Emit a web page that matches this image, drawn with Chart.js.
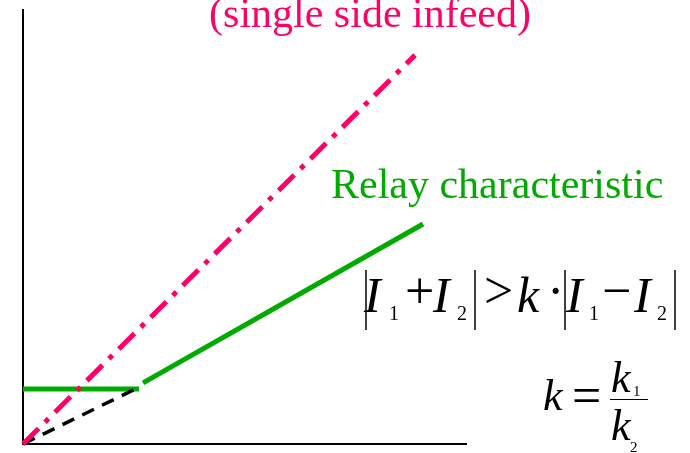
<!DOCTYPE html>
<html>
<head>
<meta charset="utf-8">
<script src="https://cdn.jsdelivr.net/npm/chart.js@4"></script>
<style>
  html, body { margin: 0; padding: 0; background: #fff; }
  #wrap { width: 690px; height: 453px; }
</style>
</head>
<body>
<div id="wrap"><canvas id="relay-chart" width="690" height="453"></canvas></div>
<script>
// line end points, in axis units (0..10 on both axes)
const infeedX = [0, 8.85];
const infeedY = [0, 8.96];
const restraintX = [0, 2.62];
const restraintY = [0, 1.31];
const relayFlatX = [0, 2.62];
const relayFlatY = [1.27, 1.27];
const relaySlopeX = [2.71, 9.03];
const relaySlopeY = [1.41, 5.07];

const PINK = "#FF0066";
const GREEN = "#00AA00";

const toPoints = (xs, ys) => xs.map((x, i) => ({ x: x, y: ys[i] }));

// annotation texts + formula, drawn on top of the chart
const labelsPlugin = {
  id: "labels",
  afterDraw(chart) {
    const c = chart.ctx;
    c.save();
    c.textBaseline = "alphabetic";
    c.textAlign = "center";
    c.fillStyle = PINK;
    c.font = "42px 'Liberation Serif'";
    c.fillText("(single side infeed)", 370, 27);

    c.textAlign = "left";
    c.fillStyle = GREEN;
    c.font = "42px 'Liberation Serif'";
    c.fillText("Relay characteristic", 331, 198);

    // |I1 + I2| > k·|I1 − I2|
    c.fillStyle = "#000";
    const it = "italic 50px 'Liberation Serif'";
    const op = "52px 'Liberation Serif'";
    const sub = "20px 'Liberation Serif'";
    const base = 312;
    const opBase = 308;
    const txt = (s, x, y, f) => { c.font = f; c.fillText(s, x, y); };
    txt("I", 364, base, it);
    txt("1", 389, base + 8, sub);
    txt("+", 405, opBase, op);
    txt("I", 433, base, it);
    txt("2", 457, base + 8, sub);
    txt(">", 484, opBase, op);
    txt("k", 517, base, it);
    txt("\u00B7", 547, opBase, op);
    txt("I", 566, base, it);
    txt("1", 589, base + 8, sub);
    txt("\u2212", 602, opBase, op);
    txt("I", 634, base, it);
    txt("2", 657, base + 8, sub);
    c.lineWidth = 1.5;
    c.strokeStyle = "#000";
    [366, 475, 565, 675].forEach(x => {
      c.beginPath();
      c.moveTo(x, 270);
      c.lineTo(x, 330);
      c.stroke();
    });

    // k = k1 / k2
    const it2 = "italic 44px 'Liberation Serif'";
    txt("k", 543, 410, it2);
    txt("=", 572, 413, op);
    txt("k", 611, 392, it2);
    txt("1", 633, 396, "15px 'Liberation Serif'");
    txt("k", 611, 440, it2);
    txt("2", 630, 452, "15px 'Liberation Serif'");
    c.lineWidth = 1;
    c.beginPath();
    c.moveTo(610, 399.5);
    c.lineTo(648, 399.5);
    c.stroke();
    c.restore();
  }
};

new Chart(document.getElementById("relay-chart").getContext("2d"), {
  type: "scatter",
  data: {
    datasets: [
      {
        label: "single side infeed",
        data: toPoints(infeedX, infeedY),
        showLine: true,
        borderColor: PINK,
        borderWidth: 5,
        borderDash: [22, 9, 5, 9],
        borderCapStyle: "butt",
        pointRadius: 0,
        order: 0
      },
      {
        label: "restraint",
        data: toPoints(restraintX, restraintY),
        showLine: true,
        borderColor: "#000",
        borderWidth: 3.5,
        borderDash: [13, 9],
        borderCapStyle: "butt",
        pointRadius: 0,
        order: 1
      },
      {
        label: "Relay characteristic",
        data: toPoints(relayFlatX, relayFlatY),
        showLine: true,
        borderColor: GREEN,
        borderWidth: 5,
        borderCapStyle: "butt",
        pointRadius: 0,
        order: 2
      },
      {
        label: "Relay characteristic (slope)",
        data: toPoints(relaySlopeX, relaySlopeY),
        showLine: true,
        borderColor: GREEN,
        borderWidth: 5,
        borderCapStyle: "butt",
        pointRadius: 0,
        order: 2
      }
    ]
  },
  options: {
    responsive: false,
    devicePixelRatio: 1,
    animation: false,
    clip: false,
    layout: { padding: { left: 23, right: 224, top: 10, bottom: 9 } },
    plugins: { legend: { display: false }, tooltip: { enabled: false } },
    scales: {
      x: {
        type: "linear", min: 0, max: 10,
        ticks: { display: false },
        grid: { display: false, drawTicks: false },
        border: { display: true, color: "#000", width: 2 },
        afterFit: s => { s.height = 0; }
      },
      y: {
        type: "linear", min: 0, max: 10,
        ticks: { display: false },
        grid: { display: false, drawTicks: false },
        border: { display: true, color: "#000", width: 2 },
        afterFit: s => { s.width = 0; }
      }
    }
  },
  plugins: [labelsPlugin]
});
</script>
</body>
</html>
